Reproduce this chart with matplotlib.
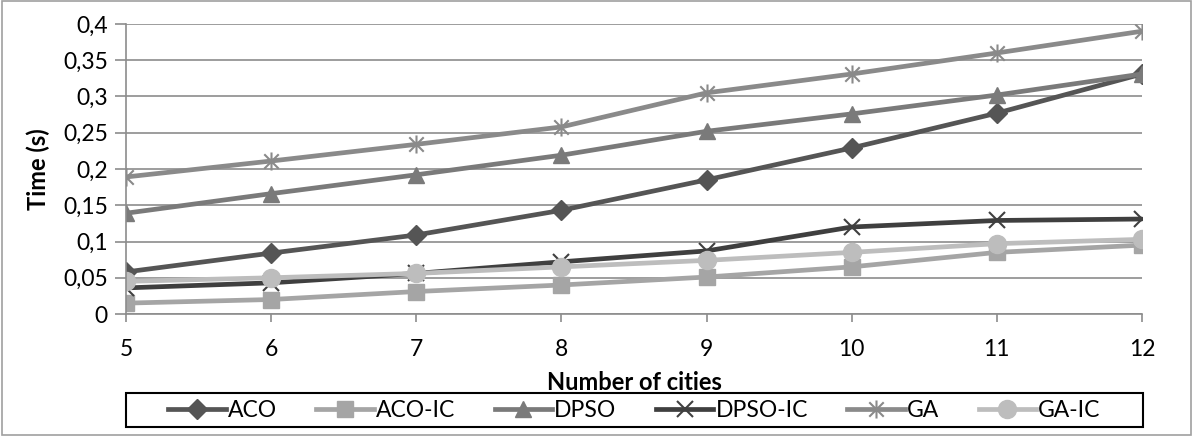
import numpy as np
import matplotlib.pyplot as plt
from matplotlib.path import Path
from matplotlib.patches import Rectangle

cities = [5, 6, 7, 8, 9, 10, 11, 12]
aco = [0.058, 0.084, 0.109, 0.143, 0.185, 0.229, 0.277, 0.331]
aco_ic = [0.015, 0.020, 0.031, 0.040, 0.051, 0.065, 0.085, 0.095]
dpso = [0.139, 0.166, 0.192, 0.219, 0.252, 0.276, 0.302, 0.331]
dpso_ic = [0.036, 0.043, 0.056, 0.072, 0.087, 0.120, 0.129, 0.131]
ga = [0.189, 0.211, 0.234, 0.258, 0.305, 0.331, 0.360, 0.390]
ga_ic = [0.045, 0.050, 0.056, 0.065, 0.074, 0.085, 0.097, 0.103]
yticks = [0, 0.05, 0.1, 0.15, 0.2, 0.25, 0.3, 0.35, 0.4]
ytick_labels = ["0", "0,05", "0,1", "0,15", "0,2", "0,25", "0,3", "0,35", "0,4"]

plt.rcParams['font.family'] = ['Lato', 'DejaVu Sans']

# asterisk marker like the Excel one: x with a vertical bar
star = Path([(0, -1), (0, 1), (-0.8, -0.8), (0.8, 0.8), (-0.8, 0.8), (0.8, -0.8)],
            [Path.MOVETO, Path.LINETO, Path.MOVETO, Path.LINETO, Path.MOVETO, Path.LINETO])

fig = plt.figure(figsize=(11.93, 4.36), dpi=100)
ax = fig.add_axes([0.1056, 0.2798, 0.8516, 0.6652])

series = [
    ("ACO", aco, "#555555", "D", 10),
    ("ACO-IC", aco_ic, "#a5a5a5", "s", 11),
    ("DPSO", dpso, "#7a7a7a", "^", 12),
    ("DPSO-IC", dpso_ic, "#3f3f3f", "x", 12),
    ("GA", ga, "#8a8a8a", star, 13),
    ("GA-IC", ga_ic, "#bdbdbd", "o", 13),
]
for name, vals, col, mk, ms in series:
    if mk == "x" or mk is star:
        ax.plot(cities, vals, color=col, lw=3.4, marker=mk, ms=ms,
                mew=1.5, mec=col, label=name)
    else:
        ax.plot(cities, vals, color=col, lw=3.4, marker=mk, ms=ms,
                mec=col, mfc=col, label=name)

ax.set_xlim(5, 12)
ax.set_ylim(0, 0.4)
ax.set_xticks(cities)
ax.set_yticks(yticks)
ax.set_yticklabels(ytick_labels)
ax.grid(axis='y', color='#8c8c8c', lw=1.2)
ax.set_axisbelow(True)
for s in ['top', 'right']:
    ax.spines[s].set_visible(False)
ax.spines['left'].set_color('#8c8c8c')
ax.spines['bottom'].set_color('#8c8c8c')
ax.spines['left'].set_linewidth(1.2)
ax.spines['bottom'].set_linewidth(1.2)
ax.tick_params(axis='y', length=8, color='#8c8c8c', width=1.2, labelsize=16.5, pad=5)
ax.tick_params(axis='x', length=6, color='#8c8c8c', width=1.2, labelsize=16.5, pad=12)

ax.set_xlabel("Number of cities", fontsize=17, fontweight='bold', labelpad=8)
ax.set_ylabel("Time (s)", fontsize=17, fontweight='bold', labelpad=9)

leg = fig.legend(loc='center', bbox_to_anchor=(0.5318, 0.0595), ncol=6, fontsize=16.5,
                 frameon=False, handlelength=2.5, handletextpad=0.1, columnspacing=1.72,
                 borderaxespad=0)

# legend box spanning the plot width
fig.patches.append(Rectangle((0.1056, 0.021), 0.8525, 0.077, transform=fig.transFigure,
                             fill=False, edgecolor='black', lw=1.5))
fig.patches.append(Rectangle((0.002, 0.003), 0.996, 0.994, transform=fig.transFigure,
                             fill=False, edgecolor='#a0a0a0', lw=1.2))

fig.savefig("out.png", dpi=100)
